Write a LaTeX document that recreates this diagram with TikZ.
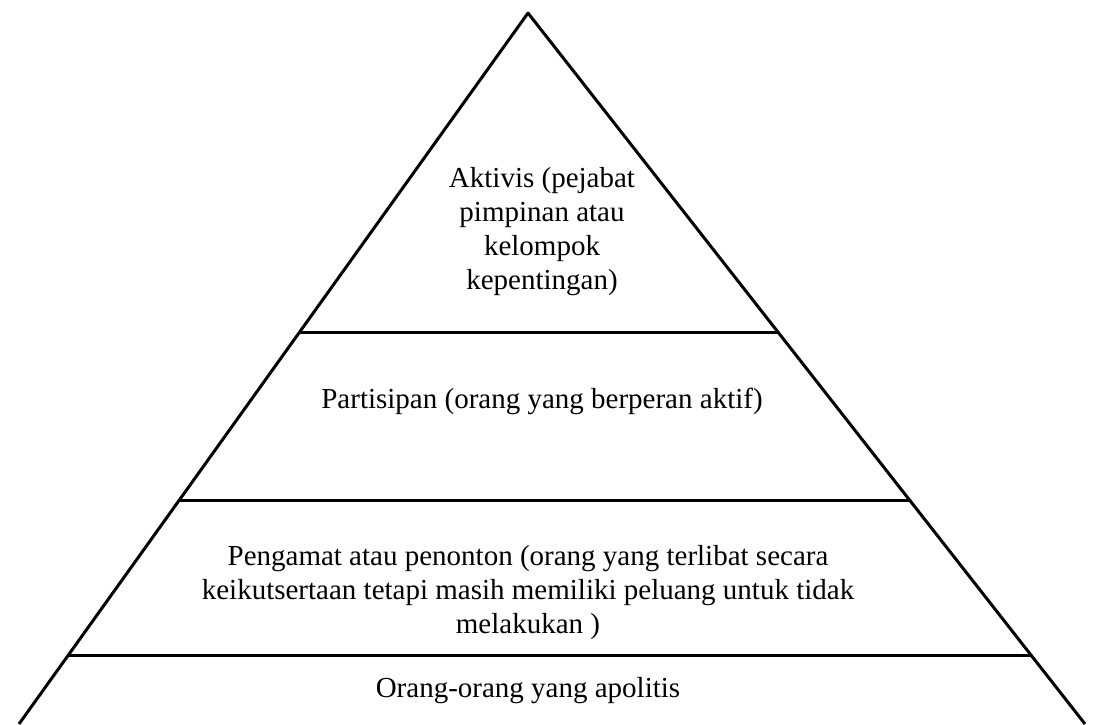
\documentclass[tikz,border=0pt]{standalone}
\usepackage{fontspec}
\setmainfont{Liberation Serif}
\usetikzlibrary{calc}
\begin{document}
\begin{tikzpicture}[x=1pt,y=-1pt,
  edge/.style={line width=3pt,black},
  label/.style={inner sep=0pt,align=center,font=\fontsize{29}{34}\selectfont}]
\useasboundingbox (0,0) rectangle (1095,724);
\clip (0,0) rectangle (1095,724);
\coordinate (A) at (528,13);
\coordinate (BL) at (19,724);
\coordinate (BR) at (1085,724);
% level points on the sides
\coordinate (L1) at ($(A)!{(332-13)/711}!(BL)$);
\coordinate (R1) at ($(A)!{(332-13)/711}!(BR)$);
\coordinate (L2) at ($(A)!{(500-13)/711}!(BL)$);
\coordinate (R2) at ($(A)!{(500-13)/711}!(BR)$);
\coordinate (L3) at ($(A)!{(655-13)/711}!(BL)$);
\coordinate (R3) at ($(A)!{(655-13)/711}!(BR)$);
\draw[edge,line join=round] (BL) -- (A) -- (BR);
\draw[edge] (L1) -- (R1);
\draw[edge] (L2) -- (R2);
\draw[edge] (L3) -- (R3);
\node[label,anchor=north] (akt) at (542,167) {Aktivis (pejabat\\pimpinan atau\\kelompok\\kepentingan)};
\node[label,anchor=base] (par) at (542,408) {Partisipan (orang yang berperan aktif)};
\node[label,anchor=north] (pen) at (528,545) {Pengamat atau penonton (orang yang terlibat secara\\keikutsertaan tetapi masih memiliki peluang untuk tidak\\melakukan )};
\node[label,anchor=base] (apo) at (528,697) {Orang-orang yang apolitis};
\end{tikzpicture}
\end{document}
